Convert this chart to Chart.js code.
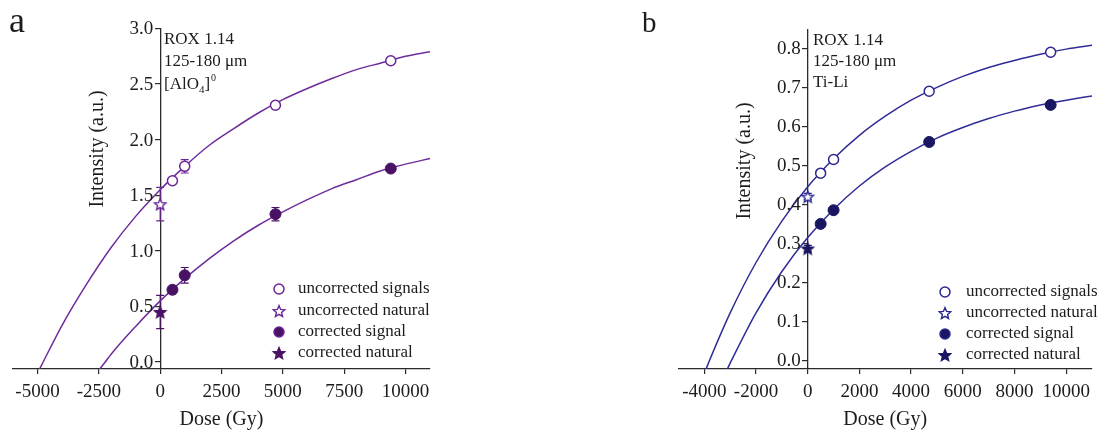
<!DOCTYPE html>
<html><head><meta charset="utf-8">
<script src="https://cdn.jsdelivr.net/npm/chart.js@4.4.1/dist/chart.umd.min.js"></script>
<style>
html,body{margin:0;padding:0;background:#fff;}
#wrap{position:relative;width:1099px;height:433px;overflow:hidden;background:#fff;}
canvas{position:absolute;top:0;}
</style></head><body>
<div id="wrap">
<canvas id="cA" style="left:0px" width="440" height="433"></canvas>
<canvas id="cB" style="left:540px" width="559" height="433"></canvas>
</div>
<script>
// ---------- Panel a data ----------
const xTicksA = [-5000, -2500, 0, 2500, 5000, 7500, 10000];
const yTicksA = [0, 0.5, 1.0, 1.5, 2.0, 2.5, 3.0];
const doseA = [500, 1000, 4700, 9400];
const uncorrA = [1.63, 1.76, 2.31, 2.71];
const uncorrErrA = [0.02, 0.06, 0.02, 0.02];
const corrA = [0.65, 0.78, 1.33, 1.74];
const corrErrA = [0.02, 0.07, 0.06, 0.02];
const natDoseA = [0];
const uncorrNatA = [1.42];
const uncorrNatErrA = [0.15];
const corrNatA = [0.45];
const corrNatErrA = [0.15];
const fitUncorrDoseA = [-4930, -4770, -4000, -3000, -2000, -1000, 0, 1000, 2000, 3000, 4000, 5000, 6000, 7000, 8000, 9000, 10000, 11000];
const fitUncorrA = [-0.07, 0, 0.33, 0.70, 1.03, 1.31, 1.55, 1.76, 1.95, 2.10, 2.24, 2.36, 2.46, 2.55, 2.63, 2.69, 2.75, 2.79];
const fitCorrDoseA = [-2490, -2240, -2000, -1000, 0, 1000, 2000, 3000, 4000, 5000, 6000, 7000, 8000, 9000, 10000, 11000];
const fitCorrA = [-0.07, 0, 0.07, 0.32, 0.55, 0.75, 0.93, 1.09, 1.23, 1.35, 1.46, 1.56, 1.64, 1.72, 1.78, 1.83];

// ---------- Panel b data ----------
const xTicksB = [-4000, -2000, 0, 2000, 4000, 6000, 8000, 10000];
const yTicksB = [0, 0.1, 0.2, 0.3, 0.4, 0.5, 0.6, 0.7, 0.8];
const doseB = [500, 1000, 4700, 9400];
const uncorrB = [0.48, 0.515, 0.69, 0.79];
const uncorrErrB = [0, 0, 0, 0];
const corrB = [0.35, 0.385, 0.56, 0.655];
const corrErrB = [0, 0, 0, 0];
const natDoseB = [0];
const uncorrNatB = [0.42];
const uncorrNatErrB = [0.008];
const corrNatB = [0.287];
const corrNatErrB = [0.008];
const fitUncorrDoseB = [-3950, -3800, -3000, -2000, -1000, 0, 1000, 2000, 3000, 4000, 5000, 6000, 7000, 8000, 9000, 10000, 11000];
const fitUncorrB = [-0.025, 0, 0.122, 0.251, 0.357, 0.445, 0.517, 0.577, 0.626, 0.667, 0.700, 0.728, 0.751, 0.769, 0.785, 0.798, 0.808];
const fitCorrDoseB = [-3130, -2950, -2000, -1000, 0, 1000, 2000, 3000, 4000, 5000, 6000, 7000, 8000, 9000, 10000, 11000];
const fitCorrB = [-0.025, 0, 0.122, 0.228, 0.315, 0.387, 0.447, 0.496, 0.536, 0.570, 0.597, 0.620, 0.639, 0.655, 0.667, 0.678];

const legendLabels = ['uncorrected signals', 'uncorrected natural', 'corrected signal', 'corrected natural'];

const SERIF = "'Liberation Serif', 'Times New Roman', serif";
const TXT = '#1c1c1c';
const AX = '#2a2a2a';

function makeStar(color, filled, r) {
  const s = Math.ceil(2 * r + 4);
  const c = document.createElement('canvas');
  c.width = s; c.height = s;
  const g = c.getContext('2d');
  g.translate(s / 2, s / 2 + r * 0.1);
  g.beginPath();
  for (let i = 0; i < 10; i++) {
    const rad = i % 2 ? r * 0.45 : r;
    const a = -Math.PI / 2 + i * Math.PI / 5;
    g.lineTo(rad * Math.cos(a), rad * Math.sin(a));
  }
  g.closePath();
  g.fillStyle = filled ? color : '#fff';
  g.fill();
  g.lineWidth = 1.4;
  g.strokeStyle = color;
  g.stroke();
  return c;
}

function pts(xs, ys) { return xs.map((x, i) => ({x: x, y: ys[i]})); }

const errPlugin = {
  id: 'errbars',
  beforeDatasetsDraw(chart) {
    const ctx = chart.ctx, x = chart.scales.x, y = chart.scales.y;
    chart.data.datasets.forEach(ds => {
      if (!ds.errors) return;
      ctx.save();
      ctx.strokeStyle = ds.borderColor;
      ctx.lineWidth = 1.2;
      ds.data.forEach((p, i) => {
        const e = ds.errors[i];
        if (!e) return;
        const px = x.getPixelForValue(p.x);
        const y1 = y.getPixelForValue(p.y - e), y2 = y.getPixelForValue(p.y + e);
        ctx.beginPath();
        ctx.moveTo(px, y1); ctx.lineTo(px, y2);
        ctx.moveTo(px - 4, y1); ctx.lineTo(px + 4, y1);
        ctx.moveTo(px - 4, y2); ctx.lineTo(px + 4, y2);
        ctx.stroke();
      });
      ctx.restore();
    });
  }
};

function decorPlugin(d) {
  return {
    id: 'decor',
    afterDraw(chart) {
      const ctx = chart.ctx;
      const xs = chart.scales.x, ys = chart.scales.y;
      ctx.save();
      ctx.fillStyle = TXT;
      // y tick labels (left of the y axis at dose 0)
      const axisX = xs.getPixelForValue(0);
      ctx.font = '19px ' + SERIF;
      ctx.textAlign = 'right';
      ctx.textBaseline = 'middle';
      d.yTicks.forEach(v => {
        ctx.fillText(v.toFixed(1), axisX - 7, ys.getPixelForValue(v) + 1);
      });
      // panel letter
      ctx.font = d.letterSize + 'px ' + SERIF;
      ctx.textBaseline = 'alphabetic';
      ctx.textAlign = 'left';
      ctx.fillText(d.letter, d.letterX, d.letterY);
      // y title
      ctx.save();
      ctx.translate(d.yTitleX, d.yTitleY);
      ctx.rotate(-Math.PI / 2);
      ctx.font = '20px ' + SERIF;
      ctx.textAlign = 'center';
      ctx.textBaseline = 'middle';
      ctx.fillText('Intensity (a.u.)', 0, 0);
      ctx.restore();
      // annotation
      ctx.font = '17px ' + SERIF;
      ctx.textBaseline = 'middle';
      ctx.textAlign = 'left';
      ctx.fillText('ROX 1.14', d.annX, d.annY[0]);
      ctx.fillText('125-180 \u03bcm', d.annX, d.annY[1]);
      if (d.aloLine) {
        let x = d.annX;
        const yy = d.annY[2];
        ctx.fillText('[AlO', x, yy); x += ctx.measureText('[AlO').width;
        ctx.font = '11px ' + SERIF;
        ctx.fillText('4', x, yy + 5); x += ctx.measureText('4').width;
        ctx.font = '17px ' + SERIF;
        ctx.fillText(']', x, yy); x += ctx.measureText(']').width + 1;
        ctx.font = '10px ' + SERIF;
        ctx.fillText('0', x, yy - 7);
      } else {
        ctx.fillText(d.thirdLine, d.annX, d.annY[2]);
      }
      // legend
      ctx.font = '17px ' + SERIF;
      d.legendY.forEach((ly, i) => {
        const mx = d.legendMX;
        if (i === 0 || i === 2) {
          ctx.beginPath();
          ctx.arc(mx, ly, 5, 0, Math.PI * 2);
          ctx.lineWidth = 1.5;
          ctx.strokeStyle = d.openColor;
          ctx.fillStyle = i === 0 ? '#fff' : d.fillColor;
          ctx.fill();
          ctx.stroke();
        } else {
          const img = i === 1 ? d.starOpen : d.starFill;
          ctx.drawImage(img, mx - img.width / 2, ly - img.height / 2);
        }
        ctx.fillStyle = TXT;
        ctx.fillText(legendLabels[i], d.legendTX, ly);
      });
      ctx.restore();
    }
  };
}

function build(id, c) {
  const starOpen = makeStar(c.openColor, false, 6);
  const starFill = makeStar(c.fillColor, true, 6);
  const datasets = [
    {label: 'fitU', data: pts(c.fitUX, c.fitUY), showLine: true, pointRadius: 0, borderColor: c.lineColor, borderWidth: 1.5, cubicInterpolationMode: 'monotone', tension: 0.4, order: 5},
    {label: 'fitC', data: pts(c.fitCX, c.fitCY), showLine: true, pointRadius: 0, borderColor: c.lineColor, borderWidth: 1.5, cubicInterpolationMode: 'monotone', tension: 0.4, order: 5},
    {label: legendLabels[0], data: pts(c.dose, c.uncorr), errors: c.uncorrErr, pointStyle: 'circle', pointRadius: 5, borderWidth: 1.5, borderColor: c.openColor, backgroundColor: '#fff', order: 2},
    {label: legendLabels[2], data: pts(c.dose, c.corr), errors: c.corrErr, pointStyle: 'circle', pointRadius: 5.5, borderWidth: 1, borderColor: c.fillColor, backgroundColor: c.fillColor, order: 2},
    {label: legendLabels[1], data: pts(c.natDose, c.uncorrNat), errors: c.uncorrNatErr, pointStyle: starOpen, pointRadius: 6, borderColor: c.openColor, backgroundColor: '#fff', order: 1},
    {label: legendLabels[3], data: pts(c.natDose, c.corrNat), errors: c.corrNatErr, pointStyle: starFill, pointRadius: 6, borderColor: c.fillColor, backgroundColor: c.fillColor, order: 1}
  ];
  return new Chart(document.getElementById(id), {
    type: 'scatter',
    data: {datasets},
    options: {
      responsive: false, animation: false, devicePixelRatio: 1,
      layout: {padding: c.padding},
      plugins: {legend: {display: false}, tooltip: {enabled: false}},
      scales: {
        x: {
          type: 'linear', position: 'bottom', min: c.xMin, max: c.xMax,
          afterBuildTicks: (ax) => { ax.ticks = c.xTicks.map(v => ({value: v})); },
          afterFit: (ax) => { ax.height = 64; },
          grid: {display: true, drawOnChartArea: false, drawTicks: true, tickLength: 5, color: AX, lineWidth: 1.2},
          border: {display: true, color: AX, width: 1.3},
          ticks: {color: TXT, font: {family: SERIF, size: 19}, padding: 7, maxRotation: 0, autoSkip: false, callback: (v) => String(v)},
          title: {display: true, text: 'Dose (Gy)', color: TXT, font: {family: SERIF, size: 20}, padding: {top: 0, bottom: 1}}
        },
        y: {
          type: 'linear', position: {x: 0}, min: c.yMin, max: c.yMax,
          afterBuildTicks: (ax) => { ax.ticks = c.yTicks.map(v => ({value: v})); },
          grid: {display: true, drawOnChartArea: false, drawTicks: true, tickLength: 5, color: AX, lineWidth: 1.2},
          border: {display: true, color: AX, width: 1.3},
          ticks: {display: false},
          title: {display: false}
        }
      }
    },
    plugins: [errPlugin, decorPlugin(Object.assign({starOpen, starFill, yTicks: c.yTicks}, c.decor, {openColor: c.openColor, fillColor: c.fillColor}))]
  });
}

build('cA', {
  xTicks: xTicksA, yTicks: yTicksA, xMin: -6000, xMax: 11000, yMin: -0.063, yMax: 3.0,
  padding: {left: 13, right: 10, top: 28.5, bottom: 0},
  dose: doseA, uncorr: uncorrA, uncorrErr: uncorrErrA, corr: corrA, corrErr: corrErrA,
  natDose: natDoseA, uncorrNat: uncorrNatA, uncorrNatErr: uncorrNatErrA, corrNat: corrNatA, corrNatErr: corrNatErrA,
  fitUX: fitUncorrDoseA, fitUY: fitUncorrA, fitCX: fitCorrDoseA, fitCY: fitCorrA,
  lineColor: '#6e2c9c', openColor: '#6a2597', fillColor: '#4a1265',
  decor: {letter: 'a', letterSize: 36, letterX: 9, letterY: 32, yTitleX: 98, yTitleY: 149,
    annX: 164, annY: [40, 62, 85], aloLine: true,
    legendMX: 279, legendTX: 298, legendY: [289, 311, 332, 353]}
});

build('cB', {
  xTicks: xTicksB, yTicks: yTicksB, xMin: -5000, xMax: 11000, yMin: -0.022, yMax: 0.847,
  padding: {left: 138.5, right: 2, top: 30, bottom: 0},
  dose: doseB, uncorr: uncorrB, uncorrErr: uncorrErrB, corr: corrB, corrErr: corrErrB,
  natDose: natDoseB, uncorrNat: uncorrNatB, uncorrNatErr: uncorrNatErrB, corrNat: corrNatB, corrNatErr: corrNatErrB,
  fitUX: fitUncorrDoseB, fitUY: fitUncorrB, fitCX: fitCorrDoseB, fitCY: fitCorrB,
  lineColor: '#2f2c98', openColor: '#2a268e', fillColor: '#1a1662',
  decor: {letter: 'b', letterSize: 29, letterX: 102, letterY: 32, yTitleX: 205, yTitleY: 161,
    annX: 273, annY: [41, 62, 83], aloLine: false, thirdLine: 'Ti-Li',
    legendMX: 405, legendTX: 426, legendY: [292, 313, 334, 355]}
});
</script>
</body></html>
